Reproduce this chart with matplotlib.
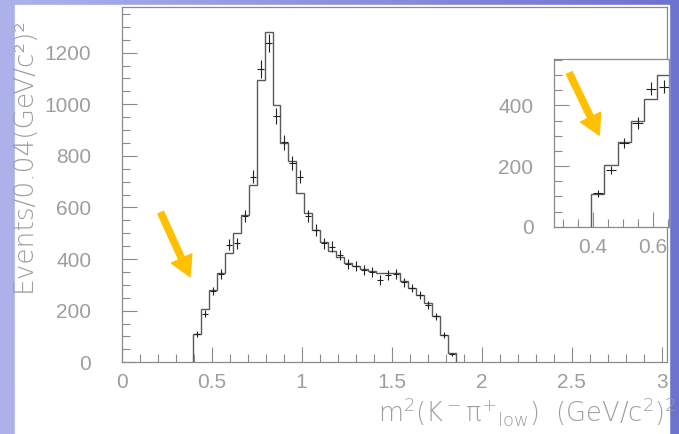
import numpy as np
import matplotlib.pyplot as plt
from matplotlib.colors import LinearSegmentedColormap
from matplotlib.patches import Rectangle
from matplotlib.ticker import MultipleLocator

# m^2(K- pi+ low) spectrum: 33 bins starting at the kinematic threshold
bin_start = 0.395
bin_width = 0.0443
n_bins = 33

# fitted/model histogram (events per bin)
model_counts = [108, 205, 280, 347, 422, 500, 571, 687, 1094, 1280,
                997, 848, 780, 658, 577, 513, 467, 432, 409, 384,
                372, 360, 355, 345, 345, 345, 315, 288, 262, 228,
                178, 106, 35]

# measured events per bin
data_counts = [110, 188, 276, 342, 455, 461, 567, 720, 1137, 1236,
               955, 852, 772, 720, 567, 513, 461, 448, 416, 380,
               375, 358, 351, 319, 338, 342, 310, 288, 262, 222,
               179, 106, 32]

x_ticks_main = [0, 0.5, 1, 1.5, 2, 2.5, 3]
y_ticks_main = [0, 200, 400, 600, 800, 1000, 1200]

edges = bin_start + bin_width * np.arange(n_bins + 1)
centers = 0.5 * (edges[:-1] + edges[1:])
data_err = np.sqrt(data_counts)

W, H = 679, 434
grey = "#8a8a8a"
text_grey = "#9e9e9e"
plt.rcParams["font.family"] = ["Liberation Sans Narrow", "Liberation Sans", "DejaVu Sans"]
plt.rcParams["mathtext.fontset"] = "custom"
plt.rcParams["mathtext.rm"] = "DejaVu Sans:light"
plt.rcParams["mathtext.it"] = "DejaVu Sans:light"

fig = plt.figure(figsize=(W / 100, H / 100), dpi=100)

# slide background: blue gradient behind a white panel
bg = fig.add_axes([0, 0, 1, 1], zorder=-10)
bg.axis("off")
slide = LinearSegmentedColormap.from_list("slide", ["#aeb2ea", "#8d91dc", "#6e72cf"])
bg.imshow(np.linspace(0, 1, 256).reshape(1, -1), cmap=slide, aspect="auto",
          extent=[0, 1, 0, 1])
bg.add_patch(Rectangle((15 / W, 0), (669 - 15) / W, 1 - 5 / H, color="white"))
bg.set_xlim(0, 1)
bg.set_ylim(0, 1)


def style_axes(a, xpad, ypad, size):
    for s in a.spines.values():
        s.set_color(grey)
        s.set_linewidth(0.9)
    a.tick_params(which="both", direction="in", top=False, right=False,
                  color=grey, width=0.8, labelcolor=text_grey, labelsize=size)
    a.tick_params(which="major", length=11)
    a.tick_params(which="minor", length=5.5)
    a.tick_params(axis="x", pad=xpad)
    a.tick_params(axis="y", pad=ypad)


arrow_style = "simple,head_length=0.8,head_width=0.9,tail_width=0.25"

ax = fig.add_axes([121.7 / W, 1 - 362.3 / H, (667 - 121.7) / W, (362.3 - 7) / H])
ax.stairs(model_counts, edges, color="#5a5a5a", lw=1.0)
ax.errorbar(centers, data_counts, yerr=data_err, xerr=0.017, fmt="none",
            ecolor="#222222", elinewidth=0.8)
ax.set_xlim(0, 3.03)
ax.set_ylim(0, 1377)
ax.set_xticks(x_ticks_main, [f"{v:g}" for v in x_ticks_main])
ax.set_yticks(y_ticks_main)
ax.xaxis.set_minor_locator(MultipleLocator(0.1))
ax.yaxis.set_minor_locator(MultipleLocator(50))
style_axes(ax, 7.5, 22, 15)

ax.annotate("", xy=(0.379, 332), xytext=(0.217, 580),
            arrowprops=dict(arrowstyle=arrow_style, color="#ffc000",
                            mutation_scale=18, shrinkA=0, shrinkB=0))

# zoom on the threshold region
ins = fig.add_axes([554.3 / W, 1 - 226.7 / H, (669 - 554.3) / W, (226.7 - 59.3) / H])
ins.stairs(model_counts, edges, color="#5a5a5a", lw=1.0)
ins.errorbar(centers, data_counts, yerr=data_err, xerr=0.017, fmt="none",
             ecolor="#222222", elinewidth=0.8)
ins.set_xlim(0.272, 0.655)
ins.set_ylim(0, 552)
ins.xaxis.set_minor_locator(MultipleLocator(0.05))
ins.yaxis.set_major_locator(MultipleLocator(200))
ins.yaxis.set_minor_locator(MultipleLocator(50))
ins.set_xticks([0.4, 0.6], ["0.4", "0.6"])
style_axes(ins, 8, 15, 15)
ins.annotate("", xy=(0.422, 302), xytext=(0.322, 507),
             arrowprops=dict(arrowstyle=arrow_style, color="#ffc000",
                             mutation_scale=18, shrinkA=0, shrinkB=0))

fig.text(23 / W, 1 - 155 / H, "Events/0.04(GeV/c²)²", rotation=90, ha="center",
         va="center", color=text_grey, fontsize=19, family=["DejaVu Sans"],
         weight="light")
fig.text(677 / W, 1 - 411 / H,
         r"$\mathrm{m^2(K^-\pi^{+}{}_{low})\ \ (GeV/c^2)^2}$",
         ha="right", va="center", color=text_grey, fontsize=18.5)

fig.savefig("out.png", dpi=100)
